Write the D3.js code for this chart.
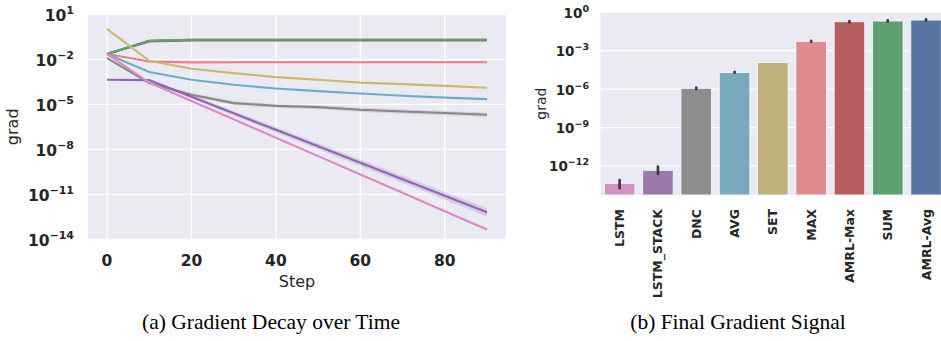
<!DOCTYPE html>
<html lang="en">
<head>
<meta charset="UTF-8">
<title>Gradient decay and final gradient signal</title>
<script src="https://d3js.org/d3.v7.min.js"></script>
<style>
    body { margin: 0; background: #fff; }
    svg { display: block; font-family: "DejaVu Sans", sans-serif; }
    .tick-label { font-weight: bold; fill: #262626; }
    .axis-title { fill: #262626; }
    .caption { font-family: "Liberation Serif", "Times New Roman", serif; font-size: 21.5px; fill: #000; }
</style>
</head>
<body>
<div id="chart"></div>
<script>
// ---- data ----
const steps = [0, 10, 20, 30, 40, 50, 60, 70, 80, 90];

const gradAmrlAvg   = [2.24e-2, 1.7e-1, 2.0e-1, 2.0e-1, 2.0e-1, 2.0e-1, 2.0e-1, 2.0e-1, 2.0e-1, 2.0e-1];
const gradAmrlMax   = [2.24e-2, 1.55e-1, 1.8e-1, 1.8e-1, 1.8e-1, 1.8e-1, 1.8e-1, 1.8e-1, 1.8e-1, 1.8e-1];
const gradSum       = [2.24e-2, 1.7e-1, 2.0e-1, 2.0e-1, 2.0e-1, 2.0e-1, 2.0e-1, 2.0e-1, 2.0e-1, 2.0e-1];
const gradMax       = [2.24e-2, 7.1e-3, 6.2e-3, 6.3e-3, 6.3e-3, 6.3e-3, 6.3e-3, 6.3e-3, 6.3e-3, 6.3e-3];
const gradSet       = [1.07, 7.9e-3, 2.34e-3, 1.2e-3, 6.5e-4, 4.3e-4, 2.8e-4, 2.2e-4, 1.7e-4, 1.26e-4];
const gradAvg       = [2.24e-2, 1.41e-3, 4.3e-4, 2.0e-4, 1.12e-4, 7.6e-5, 5.2e-5, 3.7e-5, 2.8e-5, 2.2e-5];
const gradDnc       = [1.2e-2, 2.6e-4, 4.3e-5, 1.2e-5, 7.9e-6, 6.5e-6, 4.3e-6, 3.3e-6, 2.6e-6, 2.0e-6];
const gradLstmStack = [4.3e-4, 4.1e-4, 3.2e-5, 2.5e-6, 2.0e-7, 1.6e-8, 1.26e-9, 1.0e-10, 7.9e-12, 6.3e-13];
const gradLstm      = [2.24e-2, 2.8e-4, 1.66e-5, 1.0e-6, 5.9e-8, 3.5e-9, 2.1e-10, 1.26e-11, 7.4e-13, 4.5e-14];

// confidence band, as multiplicative spread around the mean
const bandDnc       = [1.05, 1.2, 1.3, 1.35, 1.35, 1.35, 1.4, 1.4, 1.4, 1.4];
const bandLstmStack = [1.05, 1.1, 1.3, 1.4, 1.5, 1.6, 1.65, 1.7, 1.8, 1.9];
const bandLstm      = [1.02, 1.05, 1.1, 1.1, 1.1, 1.15, 1.15, 1.15, 1.2, 1.2];

const models = ["LSTM", "LSTM_STACK", "DNC", "AVG", "SET", "MAX", "AMRL-Max", "SUM", "AMRL-Avg"];
const finalGrad = [4.4e-14, 4.6e-13, 1.15e-6, 2.0e-5, 1.23e-4, 5.4e-3, 1.86e-1, 2.1e-1, 2.5e-1];
const finalLow  = [1.8e-14, 2.3e-13, 1.0e-6, 1.9e-5, null, 5.0e-3, 1.66e-1, 1.9e-1, 2.25e-1];
const finalHigh = [7.9e-14, 8.7e-13, 1.3e-6, 2.2e-5, null, 5.9e-3, 2.1e-1, 2.3e-1, 2.8e-1];

const leftTicksY = [1e1, 1e-2, 1e-5, 1e-8, 1e-11, 1e-14];
const leftTicksX = [0, 20, 40, 60, 80];
const rightTicksY = [1e0, 1e-3, 1e-6, 1e-9, 1e-12];

const lineColors = {
    "LSTM": "#df88c6", "LSTM_STACK": "#9263b3", "DNC": "#888888", "AVG": "#6aaccb",
    "SET": "#ceb66f", "MAX": "#ec7d83", "AMRL-Max": "#c44e52", "SUM": "#55a868", "AMRL-Avg": "#4c72b0"
};
const barColors = ["#d093c0", "#9b78aa", "#8c8c8c", "#7aa8bc", "#beb17e", "#de8b90", "#b65d60", "#5f9e6e", "#5975a4"];

const lines = [
    {name: "AMRL-Avg", values: gradAmrlAvg},
    {name: "AMRL-Max", values: gradAmrlMax},
    {name: "SUM", values: gradSum},
    {name: "MAX", values: gradMax},
    {name: "SET", values: gradSet},
    {name: "AVG", values: gradAvg},
    {name: "DNC", values: gradDnc, band: bandDnc},
    {name: "LSTM_STACK", values: gradLstmStack, band: bandLstmStack},
    {name: "LSTM", values: gradLstm, band: bandLstm}
];

// ---- layout ----
const W = 941, H = 341;
const svg = d3.select("#chart").append("svg").attr("width", W).attr("height", H);

function expLabel(sel, v, baseSize, supSize, lift) {
    const e = Math.round(Math.log10(v));
    sel.append("tspan").style("font-size", baseSize + "px").text("10");
    sel.append("tspan").style("font-size", supSize + "px").attr("dy", -lift)
        .text(e < 0 ? "\u2212" + (-e) : String(e));
}

// ---- (a) line chart ----
const L = {x0: 88, x1: 506, y0: 14.3, y1: 239.3};
const x = d3.scaleLinear().domain([-4.5, 94.5]).range([L.x0, L.x1]);
const y = d3.scaleLog().domain([1e-14, 1e1]).range([L.y1, L.y0]);

const ga = svg.append("g");
ga.append("rect").attr("x", L.x0).attr("y", L.y0).attr("width", L.x1 - L.x0).attr("height", L.y1 - L.y0)
    .attr("fill", "#eaeaf2");

ga.selectAll(".gx").data(leftTicksX).join("line")
    .attr("x1", d => x(d)).attr("x2", d => x(d)).attr("y1", L.y0).attr("y2", L.y1)
    .attr("stroke", "#fff").attr("stroke-width", 1.3);
ga.selectAll(".gy").data(leftTicksY).join("line")
    .attr("x1", L.x0).attr("x2", L.x1).attr("y1", d => y(d)).attr("y2", d => y(d))
    .attr("stroke", "#fff").attr("stroke-width", 1.3);

const line = d3.line().x((d, i) => x(steps[i])).y(d => y(d));
const area = d3.area()
    .x((d, i) => x(steps[i]))
    .y0(d => y(d.v / d.f)).y1(d => y(d.v * d.f));

lines.forEach(s => {
    if (s.band) {
        ga.append("path")
            .datum(s.values.map((v, i) => ({v: v, f: s.band[i]})))
            .attr("d", area).attr("fill", lineColors[s.name]).attr("opacity", 0.22);
    }
});
lines.forEach(s => {
    ga.append("path").datum(s.values).attr("d", line)
        .attr("fill", "none").attr("stroke", lineColors[s.name]).attr("stroke-width", 2.1);
});

ga.selectAll(".ty").data(leftTicksY).join("text")
    .attr("class", "tick-label").attr("text-anchor", "end")
    .attr("x", 74).attr("y", d => y(d) + 6.5)
    .each(function(d) { expLabel(d3.select(this), d, 15.5, 11, 7); });

ga.selectAll(".tx").data(leftTicksX).join("text")
    .attr("class", "tick-label").attr("text-anchor", "middle").style("font-size", "15.5px")
    .attr("x", d => x(d)).attr("y", 266).text(d => d);

ga.append("text").attr("class", "axis-title").attr("text-anchor", "middle")
    .style("font-size", "16px").attr("x", (L.x0 + L.x1) / 2).attr("y", 287).text("Step");
ga.append("text").attr("class", "axis-title").attr("text-anchor", "middle")
    .style("font-size", "16px")
    .attr("transform", `translate(18,${(L.y0 + L.y1) / 2}) rotate(-90)`).text("grad");

ga.append("text").attr("class", "caption").attr("text-anchor", "middle")
    .attr("x", 271).attr("y", 329).text("(a) Gradient Decay over Time");

// ---- (b) bar chart ----
const R = {x0: 600.5, x1: 945.2, y0: 12.3, y1: 195};
const xb = d3.scaleBand().domain(models).range([R.x0, R.x1]).paddingInner(0.2).paddingOuter(0.1);
const yb = d3.scaleLog().domain([Math.pow(10, -14.27), 1]).range([R.y1, R.y0]);

const gb = svg.append("g");
gb.append("rect").attr("x", R.x0).attr("y", R.y0).attr("width", R.x1 - R.x0).attr("height", R.y1 - R.y0)
    .attr("fill", "#eaeaf2");
gb.selectAll(".gy").data(rightTicksY).join("line")
    .attr("x1", R.x0).attr("x2", R.x1).attr("y1", d => yb(d)).attr("y2", d => yb(d))
    .attr("stroke", "#fff").attr("stroke-width", 1.2);

gb.selectAll(".bar").data(models).join("rect")
    .attr("x", d => xb(d)).attr("width", xb.bandwidth())
    .attr("y", (d, i) => yb(finalGrad[i])).attr("height", (d, i) => R.y1 - yb(finalGrad[i]))
    .attr("fill", (d, i) => barColors[i])
    .attr("stroke", "#f4f4f8").attr("stroke-width", 1);

const errData = models.map((m, i) => ({m: m, lo: finalLow[i], hi: finalHigh[i]})).filter(d => d.lo != null);
gb.selectAll(".err").data(errData).join("line")
    .attr("x1", d => xb(d.m) + xb.bandwidth() / 2).attr("x2", d => xb(d.m) + xb.bandwidth() / 2)
    .attr("y1", d => yb(d.lo)).attr("y2", d => yb(d.hi))
    .attr("stroke", "#3b3b3b").attr("stroke-width", 2.7).attr("stroke-linecap", "round");

gb.selectAll(".ty").data(rightTicksY).join("text")
    .attr("class", "tick-label").attr("text-anchor", "end")
    .attr("x", 589).attr("y", d => yb(d) + 5.5)
    .each(function(d) { expLabel(d3.select(this), d, 13.5, 9.5, 6); });

gb.selectAll(".tx").data(models).join("text")
    .attr("class", "tick-label").attr("text-anchor", "end").style("font-size", "12.5px")
    .attr("transform", d => `translate(${xb(d) + xb.bandwidth() / 2 + 4.5},209) rotate(-90)`)
    .text(d => d);

gb.append("text").attr("class", "axis-title").attr("text-anchor", "middle")
    .style("font-size", "14px")
    .attr("transform", `translate(546,${(R.y0 + R.y1) / 2}) rotate(-90)`).text("grad");

gb.append("text").attr("class", "caption").attr("text-anchor", "middle")
    .attr("x", 738).attr("y", 329).text("(b) Final Gradient Signal");
</script>
</body>
</html>
